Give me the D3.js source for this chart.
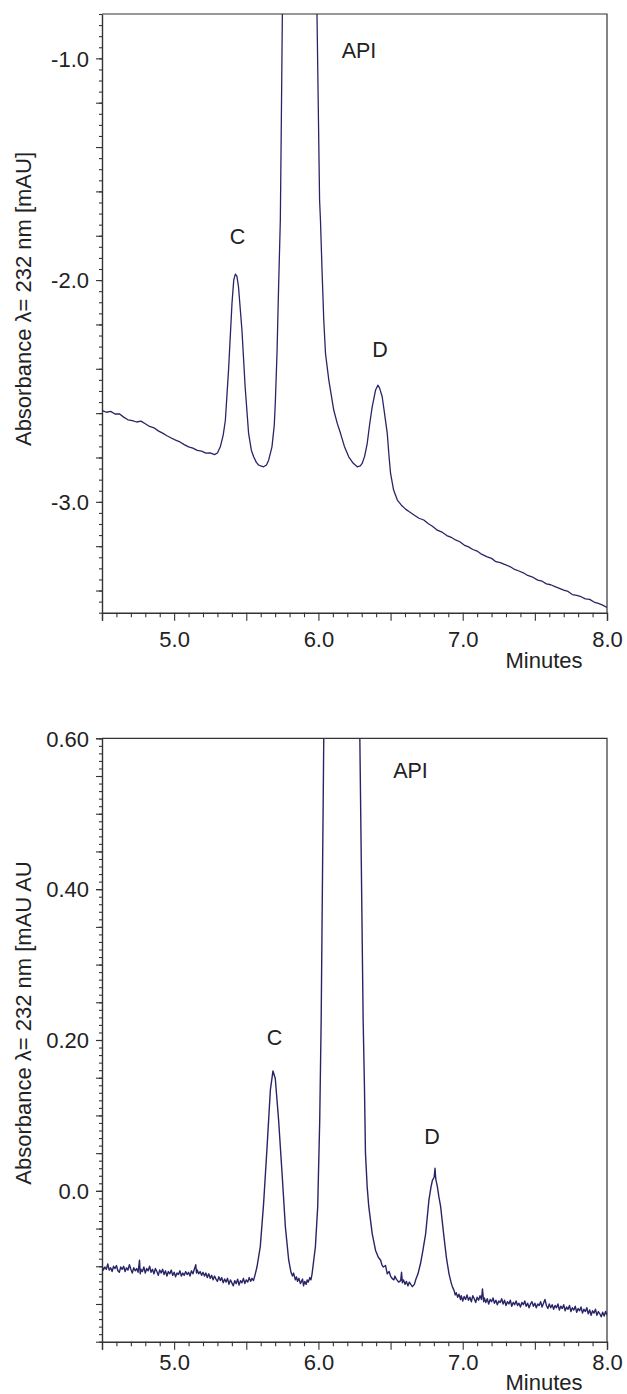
<!DOCTYPE html>
<html><head><meta charset="utf-8">
<script src="https://cdn.jsdelivr.net/npm/d3@7"></script>
<style>
body{margin:0;background:#fff;}
svg text{font-family:"Liberation Sans",Arial,Helvetica,sans-serif;fill:#222;}
</style></head>
<body><svg id="c" width="627" height="1394"></svg>
<script>
// ---------- DATA ----------
const xLabels = ["5.0","6.0","7.0","8.0"];
const xLabelValues = [5,6,7,8];
const topYLabels = ["-1.0","-2.0","-3.0"];
const topYLabelValues = [-1,-2,-3];
const botYLabels = ["0.60","0.40","0.20","0.0"];
const botYLabelValues = [0.6,0.4,0.2,0.0];
const peakNames = ["C","API","D"];

const topTimes = [4.50,4.53,4.56,4.59,4.62,4.65,4.68,4.71,4.74,4.77,4.80,4.83,4.86,4.89,4.92,4.95,4.98,5.01,5.04,5.07,5.10,5.13,5.16,5.19,5.22,5.25,5.28,5.30,5.32,5.34,5.355,5.377,5.401,5.413,5.424,5.435,5.446,5.470,5.492,5.516,5.535,5.551,5.57,5.585,5.60,5.62,5.64,5.655,5.678,5.694,5.701,5.713,5.724,5.736,5.743,5.750,5.757,5.87,5.985,5.990,6.008,6.014,6.025,6.037,6.049,6.072,6.106,6.13,6.153,6.18,6.21,6.24,6.269,6.29,6.303,6.32,6.338,6.355,6.373,6.396,6.412,6.424,6.442,6.46,6.477,6.49,6.500,6.521,6.547,6.575,6.604,6.63,6.66,6.697,6.73,6.76,6.79,6.824,6.86,6.89,6.92,6.95,6.98,7.01,7.04,7.07,7.10,7.13,7.17,7.20,7.23,7.26,7.29,7.33,7.36,7.39,7.42,7.45,7.48,7.52,7.55,7.58,7.61,7.64,7.67,7.70,7.73,7.76,7.79,7.82,7.85,7.88,7.91,7.94,7.97,8.00];
const topValues = [-2.588,-2.596,-2.592,-2.604,-2.603,-2.618,-2.630,-2.634,-2.640,-2.636,-2.648,-2.660,-2.666,-2.680,-2.690,-2.702,-2.712,-2.722,-2.730,-2.742,-2.752,-2.758,-2.768,-2.771,-2.780,-2.779,-2.787,-2.780,-2.752,-2.699,-2.632,-2.406,-2.104,-2.000,-1.973,-1.982,-2.030,-2.226,-2.481,-2.691,-2.767,-2.797,-2.822,-2.834,-2.838,-2.842,-2.834,-2.812,-2.752,-2.654,-2.555,-2.329,-2.030,-1.729,-1.278,-0.800,-0.300,4.000,-0.300,-0.800,-1.639,-1.729,-1.955,-2.180,-2.331,-2.451,-2.586,-2.645,-2.691,-2.750,-2.797,-2.825,-2.842,-2.838,-2.827,-2.795,-2.737,-2.650,-2.571,-2.496,-2.474,-2.487,-2.526,-2.610,-2.691,-2.800,-2.872,-2.947,-2.992,-3.015,-3.033,-3.045,-3.058,-3.074,-3.082,-3.098,-3.110,-3.128,-3.138,-3.152,-3.160,-3.172,-3.180,-3.195,-3.203,-3.215,-3.222,-3.236,-3.248,-3.255,-3.270,-3.274,-3.282,-3.293,-3.305,-3.312,-3.320,-3.332,-3.338,-3.353,-3.358,-3.370,-3.374,-3.382,-3.390,-3.398,-3.404,-3.418,-3.422,-3.428,-3.438,-3.440,-3.452,-3.458,-3.466,-3.476];

const botTimes = [4.50,4.51,4.52,4.53,4.54,4.55,4.56,4.57,4.58,4.59,4.60,4.61,4.62,4.63,4.64,4.65,4.66,4.67,4.68,4.69,4.70,4.71,4.72,4.73,4.74,4.75,4.76,4.765,4.77,4.78,4.79,4.80,4.81,4.82,4.83,4.84,4.85,4.86,4.87,4.88,4.89,4.90,4.91,4.92,4.93,4.94,4.95,4.96,4.97,4.98,4.99,5.00,5.01,5.02,5.03,5.04,5.05,5.06,5.07,5.08,5.09,5.10,5.11,5.12,5.13,5.14,5.15,5.155,5.16,5.17,5.18,5.19,5.20,5.21,5.22,5.23,5.24,5.25,5.26,5.27,5.28,5.29,5.30,5.31,5.32,5.33,5.34,5.35,5.36,5.37,5.38,5.39,5.40,5.41,5.42,5.43,5.44,5.45,5.46,5.47,5.48,5.49,5.50,5.51,5.52,5.53,5.54,5.55,5.56,
  5.574,5.597,5.620,5.644,5.667,5.685,5.701,5.724,5.748,5.771,5.794,5.81,5.82,5.828,5.84,5.848,5.855,5.865,5.875,5.89,5.897,5.905,5.915,5.922,5.93,5.94,5.948,5.956,5.979,5.995,6.009,6.019,6.037,6.040,6.16,6.285,6.287,6.310,6.319,6.326,6.338,6.349,6.373,6.396,6.415,6.431,6.44,6.45,6.465,6.477,6.49,6.50,6.51,6.523,6.53,6.54,6.556,6.570,6.576,6.582,6.59,6.60,6.61,6.62,6.63,6.64,6.651,6.665,6.674,6.69,6.708,6.725,6.743,6.766,6.780,6.790,6.802,6.808,6.813,6.824,6.835,6.847,6.870,6.888,6.905,6.92,6.930,6.940,6.948,
  6.955,6.965,6.974,6.985,6.99,7.00,7.01,7.02,7.03,7.04,7.05,7.06,7.07,7.08,7.09,7.10,7.11,7.12,7.13,7.137,7.145,7.15,7.16,7.17,7.18,7.19,7.20,7.21,7.22,7.23,7.24,7.25,7.26,7.27,7.28,7.29,7.30,7.31,7.32,7.33,7.34,7.35,7.36,7.37,7.38,7.39,7.40,7.41,7.42,7.43,7.44,7.45,7.46,7.47,7.48,7.49,7.50,7.51,7.52,7.53,7.54,7.55,7.56,7.57,7.58,7.59,7.60,7.61,7.62,7.63,7.64,7.65,7.66,7.67,7.68,7.69,7.70,7.71,7.72,7.73,7.74,7.75,7.76,7.77,7.78,7.79,7.80,7.81,7.82,7.83,7.84,7.85,7.86,7.87,7.88,7.89,7.90,7.91,7.92,7.93,7.94,7.95,7.96,7.97,7.98,7.99,8.00];
const botValues = [-0.099,-0.105,-0.101,-0.104,-0.097,-0.105,-0.102,-0.107,-0.100,-0.103,-0.099,-0.106,-0.108,-0.101,-0.104,-0.100,-0.107,-0.102,-0.105,-0.098,-0.104,-0.109,-0.102,-0.106,-0.103,-0.108,-0.092,-0.110,-0.104,-0.107,-0.101,-0.109,-0.103,-0.106,-0.100,-0.108,-0.104,-0.110,-0.103,-0.107,-0.112,-0.105,-0.109,-0.104,-0.111,-0.106,-0.113,-0.107,-0.110,-0.105,-0.112,-0.108,-0.114,-0.109,-0.111,-0.106,-0.113,-0.109,-0.112,-0.107,-0.111,-0.108,-0.113,-0.106,-0.110,-0.104,-0.098,-0.109,-0.105,-0.110,-0.107,-0.112,-0.108,-0.113,-0.109,-0.115,-0.110,-0.116,-0.112,-0.118,-0.113,-0.117,-0.120,-0.114,-0.119,-0.115,-0.122,-0.117,-0.121,-0.116,-0.124,-0.118,-0.122,-0.126,-0.119,-0.123,-0.117,-0.125,-0.119,-0.122,-0.116,-0.123,-0.118,-0.121,-0.115,-0.120,-0.116,-0.119,-0.112,
  -0.101,-0.074,-0.017,0.058,0.134,0.159,0.149,0.094,0.023,-0.048,-0.092,-0.108,-0.113,-0.109,-0.118,-0.114,-0.120,-0.116,-0.123,-0.117,-0.126,-0.120,-0.124,-0.118,-0.121,-0.115,-0.118,-0.110,-0.074,-0.021,0.094,0.226,0.600,0.800,5.000,0.800,0.600,0.226,0.138,0.050,0.005,-0.021,-0.057,-0.079,-0.088,-0.092,-0.098,-0.101,-0.099,-0.110,-0.107,-0.113,-0.116,-0.118,-0.113,-0.117,-0.121,-0.119,-0.108,-0.122,-0.118,-0.124,-0.120,-0.126,-0.121,-0.124,-0.127,-0.124,-0.118,-0.110,-0.096,-0.078,-0.057,-0.012,0.005,0.014,0.018,0.030,0.016,0.006,-0.008,-0.021,-0.061,-0.090,-0.110,-0.122,-0.128,-0.132,-0.138,
  -0.135,-0.141,-0.137,-0.144,-0.139,-0.146,-0.140,-0.144,-0.138,-0.145,-0.141,-0.147,-0.139,-0.143,-0.148,-0.141,-0.145,-0.139,-0.144,-0.130,-0.147,-0.142,-0.148,-0.143,-0.150,-0.144,-0.147,-0.142,-0.149,-0.145,-0.151,-0.146,-0.148,-0.143,-0.150,-0.145,-0.152,-0.147,-0.150,-0.145,-0.153,-0.148,-0.151,-0.146,-0.152,-0.149,-0.154,-0.148,-0.151,-0.146,-0.153,-0.149,-0.155,-0.150,-0.147,-0.153,-0.149,-0.155,-0.150,-0.152,-0.147,-0.154,-0.149,-0.144,-0.152,-0.156,-0.150,-0.155,-0.151,-0.157,-0.152,-0.155,-0.150,-0.158,-0.153,-0.156,-0.151,-0.159,-0.154,-0.157,-0.152,-0.160,-0.155,-0.158,-0.153,-0.161,-0.156,-0.159,-0.154,-0.162,-0.157,-0.160,-0.155,-0.163,-0.158,-0.165,-0.159,-0.162,-0.157,-0.165,-0.160,-0.163,-0.167,-0.161,-0.166,-0.160,-0.165];

// peak label anchor positions (time, value) per panel
const topPeakTimes = [5.44, 6.281, 6.427];
const topPeakValues = [-1.837, -1.0, -2.346];
const botPeakTimes = [5.695, 6.638, 6.787];
const botPeakValues = [0.193, 0.547, 0.062];

// ---------- DRAW ----------
const svg = d3.select("#c");
const lineColor = "#282566";
const frameColor = "#333";
const FS = 22;

function panel(cfg){
  const x = d3.scaleLinear().domain([4.5,8.0]).range([102,607]);
  const y = d3.scaleLinear().domain(cfg.yDomain).range([cfg.y1, cfg.y0]);
  const g = svg.append("g");
  const id = "clip"+cfg.name;
  svg.append("defs").append("clipPath").attr("id",id)
    .append("rect").attr("x",102).attr("y",cfg.y0).attr("width",505).attr("height",cfg.y1-cfg.y0);

  // trace
  const data = cfg.times.map((t,i)=>[t,cfg.values[i]]);
  g.append("path").datum(data)
    .attr("clip-path",`url(#${id})`)
    .attr("fill","none").attr("stroke",lineColor).attr("stroke-width",cfg.lw)
    .attr("stroke-linejoin","round")
    .attr("d", d3.line().x(d=>x(d[0])).y(d=>y(d[1])));

  // frame (top, right)
  g.append("path").attr("fill","none").attr("stroke",frameColor).attr("stroke-width",1.2)
    .attr("d",`M102,${cfg.y0}H607V${cfg.y1}`);

  // x axis
  const xMinor = d3.range(45,81).map(v=>v/10).filter(v=> Math.abs(v*2-Math.round(v*2))>1e-6);
  const xMajor = d3.range(9,17).map(v=>v/2);
  g.append("g").attr("transform",`translate(0,${cfg.y1})`)
    .call(d3.axisBottom(x).tickValues(xMinor).tickSize(4.5).tickFormat(""))
    .call(a=>a.select(".domain").remove())
    .call(a=>a.selectAll("line").attr("stroke",frameColor).attr("stroke-width",1.1));
  const xa = g.append("g").attr("transform",`translate(0,${cfg.y1})`)
    .call(d3.axisBottom(x).tickValues(xMajor).tickSizeOuter(0).tickSize(8)
      .tickFormat(d=>{const i=xLabelValues.indexOf(d); return i>=0?xLabels[i]:"";}));
  xa.select(".domain").attr("stroke",frameColor).attr("stroke-width",1.4);
  xa.selectAll("line").attr("stroke",frameColor).attr("stroke-width",1.1);
  xa.selectAll("text").attr("font-size",FS).attr("fill","#222")
    .attr("y",cfg.xLabelBase).attr("dy",0).style("font-family","Liberation Sans, Arial, sans-serif");

  // y axis
  g.append("g").attr("transform","translate(102,0)")
    .call(d3.axisLeft(y).tickValues(cfg.yMinor).tickSize(3).tickFormat(""))
    .call(a=>a.select(".domain").remove())
    .call(a=>a.selectAll("line").attr("stroke",frameColor).attr("stroke-width",1.1));
  g.append("g").attr("transform","translate(102,0)")
    .call(d3.axisLeft(y).tickValues(cfg.yMedium).tickSize(6).tickFormat(""))
    .call(a=>a.select(".domain").remove())
    .call(a=>a.selectAll("line").attr("stroke",frameColor).attr("stroke-width",1.1));
  const ya = g.append("g").attr("transform","translate(102,0)")
    .call(d3.axisLeft(y).tickValues(cfg.yLabelValues).tickSize(6).tickSizeOuter(0).tickPadding(7)
      .tickFormat((d,i)=>cfg.yLabels[i]));
  ya.select(".domain").attr("stroke",frameColor).attr("stroke-width",1.4);
  ya.selectAll("line").attr("stroke",frameColor).attr("stroke-width",1.1);
  ya.selectAll("text").attr("font-size",FS).attr("fill","#222").attr("dy","0.35em")
    .style("font-family","Liberation Sans, Arial, sans-serif");

  // axis titles
  g.append("text").attr("x",544).attr("y",cfg.minutesBase).attr("text-anchor","middle")
    .attr("font-size",FS).text("Minutes");
  g.append("text").attr("transform",`translate(31,${cfg.yTitleCenter}) rotate(-90)`)
    .attr("text-anchor","middle").attr("font-size",FS).text(cfg.yTitle);

  // peak labels
  g.selectAll("text.pk").data(peakNames).join("text").attr("class","pk")
    .attr("x",(d,i)=>x(cfg.peakTimes[i])).attr("y",(d,i)=>y(cfg.peakValues[i]))
    .attr("text-anchor","middle").attr("font-size",21.5).text(d=>d);
}

panel({name:"top", y0:14, y1:612.7, yDomain:[-3.5,-0.8], lw:1.3,
  times:topTimes, values:topValues,
  yLabels:topYLabels, yLabelValues:topYLabelValues,
  yMedium:[-1.2,-1.4,-1.6,-1.8,-2.2,-2.4,-2.6,-2.8,-3.2,-3.4],
  yMinor:d3.range(-70,-15).map(v=>v/20),
  xLabelBase:34, minutesBase:668, yTitleCenter:299,
  yTitle:"Absorbance λ= 232 nm [mAU]",
  peakTimes:topPeakTimes, peakValues:topPeakValues});

panel({name:"bot", y0:738.3, y1:1341.7, yDomain:[-0.2,0.6], lw:1.4,
  times:botTimes, values:botValues,
  yLabels:botYLabels, yLabelValues:botYLabelValues,
  yMedium:d3.range(-4,13).map(v=>v/20),
  yMinor:d3.range(-20,61).map(v=>v/100),
  xLabelBase:28.3, minutesBase:1390, yTitleCenter:1023,
  yTitle:"Absorbance λ= 232 nm [mAU AU",
  peakTimes:botPeakTimes, peakValues:botPeakValues});
</script></body></html>
